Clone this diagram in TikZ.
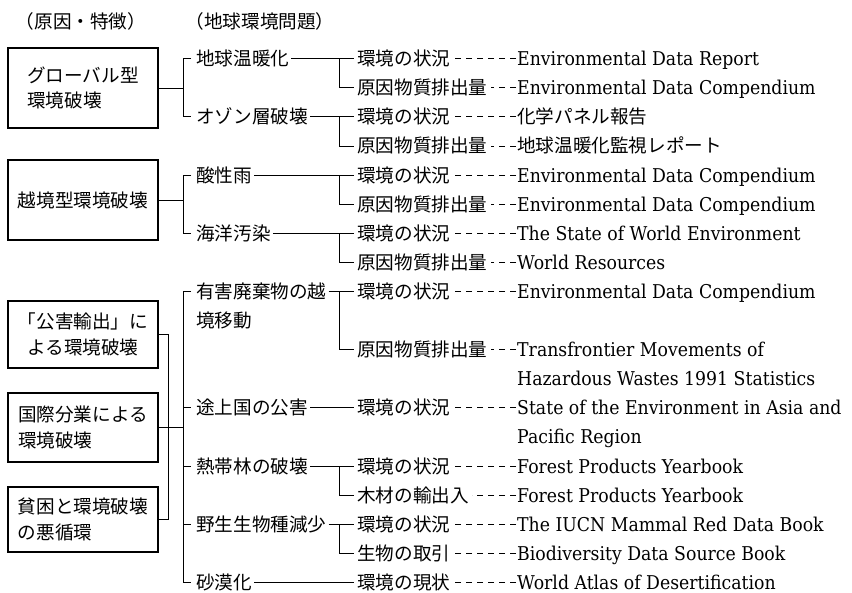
\documentclass[tikz,border=0pt]{standalone}
\usepackage{fontspec}
\setmainfont[FakeStretch=0.91]{DejaVu Serif}
\newfontfamily\jpf{Noto Sans CJK JP}
\newcommand{\RY}[1]{58.7+29.1*#1}
\begin{document}
\begin{tikzpicture}[x=1pt,y=-1pt,
  jp/.style={font=\jpf\fontsize{18.6}{25.5}\selectfont},
  en/.style={font=\fontsize{19}{22}\selectfont},
  rowtext/.style={anchor=west, inner sep=0pt, text height=14pt, text depth=0pt},
  t2/.style={rowtext, jp},
  t3/.style={rowtext, jp},
  t4/.style={rowtext, en},
  box/.style={draw, line width=1.1pt, minimum width=150pt, inner xsep=8pt, inner ysep=0pt, align=left, jp},
  conn/.style={line width=0.9pt},
  dconn/.style={line width=0.8pt, dash pattern=on 6pt off 5pt}
]
\useasboundingbox (0,0) rectangle (852,593);

% headers
\node[jp, inner sep=0pt] (h1) at (81,21) {（原因・特徴）};
\node[jp, inner sep=0pt] (h2) at (260,21) {（地球環境問題）};

% level 1 boxes
\node[box, minimum height=80pt] (b1) at (83,88) {グローバル型\\環境破壊};
\node[box, minimum height=80pt] (b2) at (83,200) {越境型環境破壊};
\node[box, minimum height=67pt, align=center] (b3) at (83,334.5) {「公害輸出」に\\よる環境破壊};
\node[box, minimum height=69pt] (b4) at (83,427.5) {国際分業による\\環境破壊};
\node[box, minimum height=65pt] (b5) at (83,519.5) {貧困と環境破壊\\の悪循環};

% level 2
\node[t2] (a) at (196,\RY{0}) {地球温暖化};
\node[t2] (b) at (196,\RY{2}) {オゾン層破壊};
\node[t2] (c) at (196,\RY{4}) {酸性雨};
\node[t2] (d) at (196,\RY{6}) {海洋汚染};
\node[t2] (e) at (196,\RY{8}) {有害廃棄物の越};
\node[t2] (e2) at (196,\RY{9}) {境移動};
\node[t2] (f) at (196,\RY{12}) {途上国の公害};
\node[t2] (g) at (196,\RY{14}) {熱帯林の破壊};
\node[t2] (h) at (196,\RY{16}) {野生生物種減少};
\node[t2] (i) at (196,\RY{18}) {砂漠化};

% level 3
\node[t3] (r0) at (357,\RY{0}) {環境の状況};
\node[t3] (r1) at (357,\RY{1}) {原因物質排出量};
\node[t3] (r2) at (357,\RY{2}) {環境の状況};
\node[t3] (r3) at (357,\RY{3}) {原因物質排出量};
\node[t3] (r4) at (357,\RY{4}) {環境の状況};
\node[t3] (r5) at (357,\RY{5}) {原因物質排出量};
\node[t3] (r6) at (357,\RY{6}) {環境の状況};
\node[t3] (r7) at (357,\RY{7}) {原因物質排出量};
\node[t3] (r8) at (357,\RY{8}) {環境の状況};
\node[t3] (r10) at (357,\RY{10}) {原因物質排出量};
\node[t3] (r12) at (357,\RY{12}) {環境の状況};
\node[t3] (r14) at (357,\RY{14}) {環境の状況};
\node[t3] (r15) at (357,\RY{15}) {木材の輸出入};
\node[t3] (r16) at (357,\RY{16}) {環境の状況};
\node[t3] (r17) at (357,\RY{17}) {生物の取引};
\node[t3] (r18) at (357,\RY{18}) {環境の現状};

% level 4
\node[t4] (s0) at (517,\RY{0}) {Environmental Data Report};
\node[t4] (s1) at (517,\RY{1}) {Environmental Data Compendium};
\node[t3] (s2) at (517,\RY{2}) {化学パネル報告};
\node[t3] (s3) at (517,\RY{3}) {地球温暖化監視レポート};
\node[t4] (s4) at (517,\RY{4}) {Environmental Data Compendium};
\node[t4] (s5) at (517,\RY{5}) {Environmental Data Compendium};
\node[t4] (s6) at (517,\RY{6}) {The State of World Environment};
\node[t4] (s7) at (517,\RY{7}) {World Resources};
\node[t4] (s8) at (517,\RY{8}) {Environmental Data Compendium};
\node[t4] (s10) at (517,\RY{10}) {Transfrontier Movements of};
\node[t4] (s11) at (517,\RY{11}) {Hazardous Wastes 1991 Statistics};
\node[t4] (s12) at (517,\RY{12}) {State of the Environment in Asia and};
\node[t4] (s13) at (517,\RY{13}) {Pacific Region};
\node[t4] (s14) at (517,\RY{14}) {Forest Products Yearbook};
\node[t4] (s15) at (517,\RY{15}) {Forest Products Yearbook};
\node[t4] (s16) at (517,\RY{16}) {The IUCN Mammal Red Data Book};
\node[t4] (s17) at (517,\RY{17}) {Biodiversity Data Source Book};
\node[t4] (s18) at (517,\RY{18}) {World Atlas of Desertification};

\coordinate (X0) at (168,0);
\coordinate (X1) at (183,0);
\coordinate (X2) at (339,0);

% level 1 -> level 2
\draw[conn] (b1.east) -- (X1 |- b1.east);
\draw[conn] ([xshift=-5pt]a.west) -| (X1 |- b.west) -- ([xshift=-5pt]b.west);
\draw[conn] (b2.east) -- (X1 |- b2.east);
\draw[conn] ([xshift=-5pt]c.west) -| (X1 |- d.west) -- ([xshift=-5pt]d.west);
\draw[conn] (b3.east) -| (X0 |- b5.east) -- (b5.east);
\draw[conn] (b4.east) -- (X1 |- b4.east);
\draw[conn] ([xshift=-5pt]e.west) -| (X1 |- i.west) -- ([xshift=-5pt]i.west);
\foreach \n in {f,g,h} \draw[conn] (X1 |- \n.west) -- ([xshift=-5pt]\n.west);

% level 2 -> level 3
\foreach \p/\q/\r in {a/r0/r1, b/r2/r3, c/r4/r5, d/r6/r7, e/r8/r10, g/r14/r15, h/r16/r17} {
  \draw[conn] ([xshift=2pt]\p.east) -- ([xshift=-3pt]\q.west);
  \draw[conn] (X2 |- \q.west) |- ([xshift=-3pt]\r.west);
}
\draw[conn] ([xshift=2pt]f.east) -- ([xshift=-3pt]r12.west);
\draw[conn] ([xshift=2pt]i.east) -- ([xshift=-3pt]r18.west);

% level 3 -> level 4 (dashes drawn from the source title back to the item)
\foreach \q/\s in {r0/s0, r1/s1, r2/s2, r3/s3, r4/s4, r5/s5, r6/s6, r7/s7, r8/s8, r10/s10, r12/s12, r14/s14, r15/s15, r16/s16, r17/s17, r18/s18}
  \draw[dconn] ([xshift=-1pt]\s.west) -- ([xshift=3pt]\q.east);
\end{tikzpicture}
\end{document}
